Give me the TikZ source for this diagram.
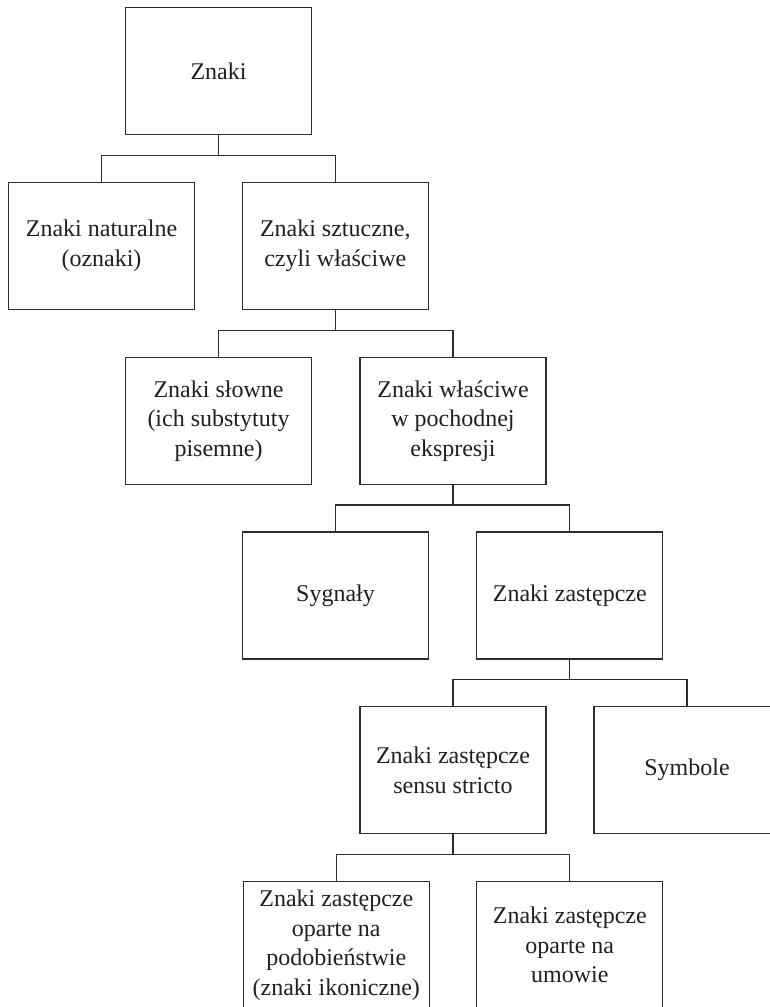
\documentclass[tikz,border=0pt]{standalone}
\usepackage{fontspec}
\setmainfont{Liberation Serif}
\definecolor{inkc}{RGB}{35,31,32}
\definecolor{linec}{RGB}{45,45,45}
\tikzset{
  box/.style={draw=linec, line width=1.2pt, minimum width=186pt, minimum height=127pt,
    inner sep=0pt, align=center, text=inkc,
    font=\fontsize{24pt}{29.5pt}\selectfont},
  conn/.style={draw=linec, line width=1.2pt}
}
\begin{document}
\begin{tikzpicture}[x=1pt,y=-1pt]
\useasboundingbox (0,0) rectangle (770,1007);
\node[box] (n0) at (218.5,70.8) {Znaki};
\node[box] (n1) at (101.5,245.8) {Znaki naturalne\\(oznaki)};
\node[box] (n2) at (335.3,245.8) {Znaki sztuczne,\\czyli właściwe};
\node[box] (n3) at (218.5,420.8) {Znaki słowne\\(ich substytuty\\pisemne)};
\node[box] (n4) at (453,420.8) {Znaki właściwe\\w pochodnej\\ekspresji};
\node[box] (n5) at (335.5,595.5) {Sygnały};
\node[box] (n6) at (569.8,595.5) {Znaki zastępcze};
\node[box] (n7) at (453,770.2) {Znaki zastępcze\\sensu stricto};
\node[box] (n8) at (687,770.2) {Symbole};
\node[box] (n9) at (336.3,945.2) {Znaki zastępcze\\oparte na\\podobieństwie\\(znaki ikoniczne)};
\node[box] (n10) at (569.8,945.2) {Znaki zastępcze\\oparte na\\umowie};
% bar coordinates
\coordinate (b1) at ([yshift=26.5pt]n1.north);
\coordinate (b2) at ([yshift=26.5pt]n3.north);
\coordinate (b3) at ([yshift=26.5pt]n5.north);
\coordinate (b4) at ([yshift=26.5pt]n7.north);
\coordinate (b5) at ([yshift=26.5pt]n9.north);
% connectors
\draw[conn] (n1.north) -- (b1) -| (n2.north);
\draw[conn] (n0.south) -- (n0.south |- b1);
\draw[conn] (n3.north) -- (b2) -| (n4.north);
\draw[conn] (n2.south) -- (n2.south |- b2);
\draw[conn] (n5.north) -- (b3) -| (n6.north);
\draw[conn] (n4.south) -- (n4.south |- b3);
\draw[conn] (n7.north) -- (b4) -| (n8.north);
\draw[conn] (n6.south) -- (n6.south |- b4);
\draw[conn] (n9.north) -- (b5) -| (n10.north);
\draw[conn] (n7.south) -- (n7.south |- b5);
\end{tikzpicture}
\end{document}
